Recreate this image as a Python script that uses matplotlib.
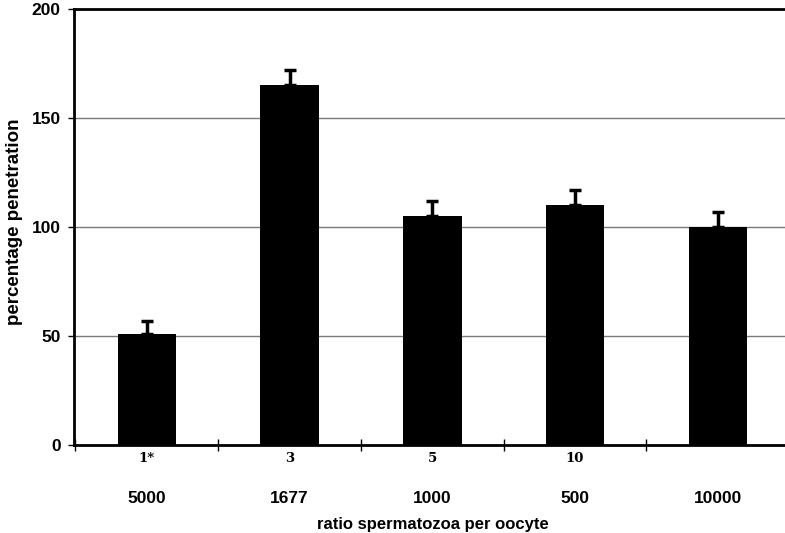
import matplotlib
matplotlib.use('Agg')
import matplotlib.pyplot as plt
import matplotlib.transforms as mtransforms
import numpy as np

# penetration relative to control, per sperm:oocyte ratio
ratios = ['5000', '1677', '1000', '500', '10000']
groups = ['1*', '3', '5', '10', '']
penetration = [51, 165, 105, 110, 100]
sem = [6, 7, 7, 7, 7]

plt.rcParams.update({'font.family': 'Liberation Sans', 'font.weight': 'bold'})

fig = plt.figure(figsize=(7.85, 5.33), dpi=100)
ax = fig.add_axes([0.0943, 0.165, 0.911, 0.818])

x = np.arange(len(ratios))
ax.bar(x, penetration, width=0.41, color='black', zorder=3,
       yerr=[[0] * len(sem), sem], capsize=4.5,
       error_kw=dict(ecolor='black', elinewidth=2.5, capthick=2.5, zorder=4))

ax.set_xlim(-0.51, 4.49)
ax.set_ylim(0, 200)
ax.set_yticks([0, 50, 100, 150, 200])
ax.tick_params(axis='y', direction='out', length=4, width=1, labelsize=12.5, pad=5.5)
for t in ax.get_yticklabels():
    t.set_fontweight('bold')

# gridlines at the interior ticks
for yv in (50, 100, 150):
    ax.axhline(yv, color='#7a7a7a', lw=1, zorder=1)

# category boundaries as crossing ticks, labels at bar centres
ax.set_xticks(x)
ax.set_xticklabels(ratios, fontsize=12.5, fontweight='bold')
ax.tick_params(axis='x', which='major', length=0, pad=33)
ax.set_xticks(np.arange(len(ratios) + 1) - 0.5, minor=True)
ax.tick_params(axis='x', which='minor', direction='inout', length=9, width=1)

trans = mtransforms.blended_transform_factory(ax.transData, ax.transAxes)
for xi, g in zip(x, groups):
    ax.text(xi, -0.016, g, transform=trans, ha='center', va='top',
            fontsize=9.5, fontweight='bold', family='DejaVu Serif')

fig.text(433 / 785, 1 - 525 / 533, 'ratio spermatozoa per oocyte',
         ha='center', va='center', fontsize=12, fontweight='bold')
fig.text(15 / 785, 1 - 222 / 533, 'percentage penetration', rotation=90,
         ha='center', va='center', fontsize=13.5, fontweight='bold')

for side in ('left', 'bottom', 'top'):
    ax.spines[side].set_linewidth(2)
ax.spines['right'].set_visible(False)

fig.savefig('out.png', dpi=100)
